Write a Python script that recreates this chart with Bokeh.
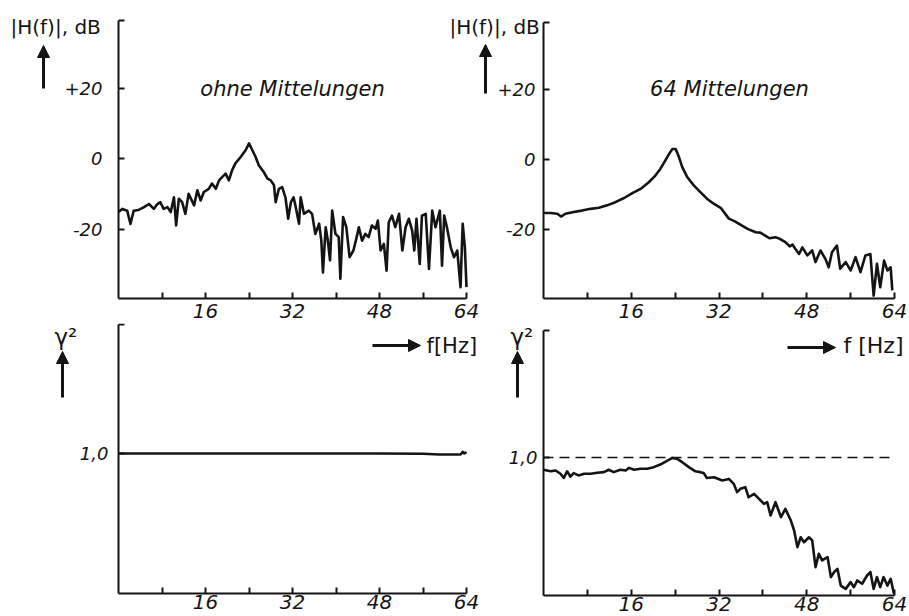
from bokeh.plotting import figure
from bokeh.models import Range1d, FixedTicker, Label, Arrow, NormalHead
from bokeh.layouts import row, column
from bokeh.embed import file_html
from bokeh.resources import INLINE

# ---------------- data ----------------
# top left: |H(f)| in dB, no averaging
f_tl = [0.0, 0.7, 1.6, 2.2, 2.8, 3.7, 4.7, 5.6, 6.5, 7.1, 7.7, 8.3, 9.0, 9.6, 10.2,
        10.6, 11.1, 11.7, 12.3, 12.9, 13.9, 14.5, 15.1, 15.7, 16.6, 17.2, 17.9, 18.5,
        19.1, 19.7, 20.3, 20.9, 21.5, 22.5, 23.4, 24.0, 24.6, 25.2, 25.8, 26.7, 27.4,
        28.0, 28.6, 28.9, 29.5, 30.1, 30.7, 31.2, 31.7, 32.2, 32.6, 33.2, 33.5, 34.1,
        35.0, 35.6, 36.2, 36.9, 37.3, 37.6, 38.1, 38.5, 38.9, 39.3, 39.9, 40.5, 40.8,
        41.3, 41.9, 42.5, 43.2, 43.8, 44.2, 44.8, 45.4, 46.0, 46.6, 47.3, 47.7, 48.2,
        48.8, 49.3, 49.7, 50.3, 50.9, 51.6, 52.2, 52.8, 53.4, 54.0, 54.4, 54.8, 55.4,
        55.8, 56.5, 57.1, 57.7, 58.3, 59.1, 59.5, 59.9, 60.4, 61.1, 61.7, 62.3, 62.9,
        63.3, 63.7, 64.0]
h_tl = [-15.2, -14.3, -14.8, -18.6, -14.8, -14.6, -13.8, -12.9, -14.3, -13.0, -12.4,
        -14.3, -13.8, -15.2, -11.0, -19.0, -11.4, -12.4, -15.7, -10.0, -13.3, -9.0,
        -11.9, -9.5, -8.6, -7.1, -8.6, -6.2, -5.2, -4.3, -6.2, -3.3, -1.4, 0.5, 2.4,
        4.3, 2.4, 0.5, -1.9, -3.8, -5.7, -6.2, -7.6, -12.4, -8.6, -8.1, -11.0, -17.1,
        -12.4, -11.0, -13.8, -18.5, -11.0, -15.7, -14.8, -15.7, -21.4, -18.5, -23.3,
        -32.3, -19.5, -23.3, -28.9, -14.8, -21.4, -22.3, -34.1, -16.6, -19.5, -28.0,
        -26.1, -22.3, -19.5, -23.3, -21.4, -22.3, -19.0, -19.9, -17.6, -26.1, -24.2,
        -31.8, -18.1, -16.2, -19.5, -15.7, -26.1, -19.5, -17.1, -20.4, -26.1, -17.1,
        -29.9, -16.2, -15.7, -31.3, -14.8, -19.5, -14.8, -30.4, -16.2, -19.5, -25.2,
        -28.0, -26.1, -36.5, -18.5, -25.2, -36.5]

# top right: |H(f)| in dB, 64 averages
f_tr = [0.0, 1.3, 2.5, 3.2, 4.0, 5.5, 7.0, 8.6, 10.1, 11.6, 13.1, 14.7, 16.2, 17.7,
        19.2, 20.4, 21.3, 22.2, 22.9, 23.5, 24.1, 24.7, 25.3, 26.2, 27.4, 28.6, 29.8,
        31.1, 32.3, 33.8, 34.8, 36.2, 37.3, 38.7, 39.5, 40.5, 41.2, 42.3, 43.0, 44.1,
        44.9, 45.4, 45.9, 46.6, 47.2, 48.1, 49.0, 49.6, 50.5, 51.4, 52.0, 52.6, 53.5,
        54.1, 55.1, 56.0, 56.9, 57.8, 58.7, 59.6, 60.2, 60.8, 61.4, 62.1, 62.7, 63.3,
        63.6]
h_tr = [-15.3, -15.3, -15.5, -16.3, -15.5, -15.0, -14.6, -14.1, -13.8, -13.1, -12.2,
        -11.0, -9.6, -8.4, -6.5, -4.6, -2.7, -0.3, 1.6, 3.0, 3.0, 0.7, -2.2, -5.0, -7.4,
        -9.3, -11.2, -12.7, -13.8, -16.9, -17.6, -18.9, -19.9, -20.8, -20.9, -21.8,
        -22.5, -22.2, -22.6, -23.6, -24.8, -24.3, -25.5, -27.0, -25.1, -27.4, -26.0,
        -29.3, -26.0, -28.4, -30.8, -26.5, -24.6, -31.2, -29.3, -31.7, -27.9, -32.2,
        -27.4, -27.0, -38.9, -29.8, -36.5, -28.9, -31.7, -30.8, -37.4]

# bottom left: coherence, no averaging
f_bl = [0.0, 16.0, 32.0, 48.0, 56.0, 59.0, 61.0, 62.9, 63.3, 63.6, 64.0]
g_bl = [1.0, 1.0, 1.0, 1.0, 0.998, 0.993, 0.993, 0.993, 1.012, 1.0, 1.01]

# bottom right: coherence, 64 averages
f_br = [0.0, 1.3, 2.2, 3.1, 3.7, 4.3, 4.9, 5.5, 6.4, 7.4, 8.6, 9.8, 11.0, 11.9, 12.8,
        14.0, 15.0, 15.6, 16.5, 17.7, 18.9, 20.1, 21.3, 22.6, 23.5, 24.4, 25.3, 26.5,
        27.7, 28.6, 29.2, 29.8, 31.1, 32.6, 33.8, 34.7, 35.3, 35.9, 36.8, 37.4, 38.4,
        39.3, 40.2, 40.8, 41.4, 42.3, 43.3, 44.1, 45.1, 45.7, 46.3, 46.9, 47.5, 48.4,
        49.0, 49.6, 50.2, 50.8, 51.8, 52.4, 53.0, 53.6, 54.2, 55.1, 56.0, 56.6, 57.2,
        58.1, 59.0, 59.6, 60.2, 60.8, 61.4, 62.0, 62.7, 63.3, 63.9]
g_br = [0.911, 0.900, 0.906, 0.882, 0.852, 0.900, 0.862, 0.887, 0.870, 0.882, 0.882,
        0.890, 0.894, 0.911, 0.894, 0.911, 0.906, 0.925, 0.911, 0.918, 0.918, 0.930,
        0.949, 0.978, 0.997, 0.990, 0.966, 0.930, 0.900, 0.894, 0.887, 0.852, 0.857,
        0.833, 0.845, 0.809, 0.749, 0.773, 0.785, 0.712, 0.737, 0.700, 0.664, 0.676,
        0.580, 0.676, 0.568, 0.628, 0.543, 0.471, 0.350, 0.422, 0.386, 0.422, 0.399,
        0.205, 0.302, 0.254, 0.278, 0.133, 0.170, 0.193, 0.072, 0.048, 0.097, 0.060,
        0.109, 0.085, 0.145, 0.170, 0.048, 0.133, 0.060, 0.133, 0.072, 0.121, 0.012]

f_axis = (0, 64)
x_ticks = [8, 16, 24, 32, 40, 48, 56, 64]
x_tick_labels = ["", "16", "", "32", "", "48", "", "64"]
db_axis = (-39.7, 39.2)
db_ticks = [-20, 0, 20]
db_tick_labels = ["-20", "0", "+20"]
coh_axis = (0.0, 1.92)
coh_ticks = [1.0]
coh_tick_labels = ["1,0"]
coh_ref = 1.0

# ---------------- styling / layout ----------------
INK = "#141414"
FONT = "DejaVu Sans"


class Panel:
    """One figure whose frame is its whole canvas; the axes are drawn at fixed
    data locations, so that captions can sit anywhere around them."""

    def __init__(self, canvas, x_px, y_px, y_vals, y_axis, yticks, ylabels,
                 ystand, xstand, show_ylabels=True):
        cx, cy, cw, ch = canvas                 # page pixels of the canvas
        self.x0px, x64px = x_px                 # page x of f = 0 and f = 64
        self.sx = (x64px - self.x0px) / (f_axis[1] - f_axis[0])
        ya_px, yb_px = y_px                     # page y of two known values
        self.va, vb = y_vals
        self.ya_px = ya_px
        self.sy = (ya_px - yb_px) / (vb - self.va)
        xr = ((cx - self.x0px) / self.sx, (cx + cw - self.x0px) / self.sx)
        yr = (self.va - (cy + ch - ya_px) / self.sy, self.va + (ya_px - cy) / self.sy)
        p = figure(width=cw, height=ch, output_backend="svg", toolbar_location=None,
                   x_range=Range1d(*xr), y_range=Range1d(*yr), min_border=0)
        p.background_fill_color = None
        p.border_fill_color = None
        p.outline_line_color = None
        p.xgrid.visible = False
        p.ygrid.visible = False
        xa = p.xaxis[0]
        ya = p.yaxis[0]
        xa.fixed_location = y_axis[0]
        xa.bounds = f_axis
        ya.fixed_location = f_axis[0]
        ya.bounds = y_axis
        xa.ticker = FixedTicker(ticks=x_ticks, minor_ticks=[])
        xa.major_label_overrides = dict(zip(x_ticks, x_tick_labels))
        ytop = y_axis[1] - 0.001 * (y_axis[1] - y_axis[0])
        yt = list(yticks) + [ytop]
        ya.ticker = FixedTicker(ticks=yt, minor_ticks=[])
        labs = list(ylabels) if show_ylabels else [""] * len(yticks)
        ya.major_label_overrides = dict(zip(yt, labs + [""]))
        for ax in (xa, ya):
            ax.axis_line_width = 2
            ax.axis_line_color = INK
            ax.major_tick_in = 6
            ax.major_tick_out = 0
            ax.major_tick_line_width = 2
            ax.major_tick_line_color = INK
            ax.minor_tick_line_color = None
            ax.major_label_text_font = FONT
            ax.major_label_text_font_style = "italic"
            ax.major_label_text_color = INK
        xa.major_label_text_font_size = "20px"
        ya.major_label_text_font_size = "18px"
        xa.major_label_standoff = xstand
        ya.major_label_standoff = ystand
        self.p = p

    def to_data(self, x, y):
        return ((x - self.x0px) / self.sx, self.va + (self.ya_px - y) / self.sy)

    def page_y(self, v):
        return self.ya_px - (v - self.va) * self.sy

    def text(self, x, y, text, size, align="left", style="normal"):
        dx, dy = self.to_data(x, y)
        self.p.add_layout(Label(x=dx, y=dy, text=text, text_font=FONT,
                                text_font_size=size, text_font_style=style,
                                text_color=INK, text_align=align, text_baseline="middle"))

    def arrow(self, x0, y0, x1, y1):
        a = self.to_data(x0, y0)
        b = self.to_data(x1, y1)
        self.p.add_layout(Arrow(x_start=a[0], y_start=a[1], x_end=b[0], y_end=b[1],
                                line_width=3, line_color=INK,
                                end=NormalHead(size=12, fill_color=INK, line_color=INK,
                                               line_width=1)))


TL = Panel((0, 0, 540, 323), (118, 466), (158, 228.5), (0, -20), db_axis,
           db_ticks, db_tick_labels, 16, 6)
TR = Panel((540, 0, 369, 323), (543, 894), (159, 229), (0, -20), db_axis,
           db_ticks, db_tick_labels, 0, 6, show_ylabels=False)
BL = Panel((0, 323, 498, 293), (118, 466), (593, 453), (0, 1), coh_axis,
           coh_ticks, coh_tick_labels, 10, 1)
BR = Panel((498, 323, 411, 293), (543, 894), (595, 457), (0, 1), coh_axis,
           coh_ticks, coh_tick_labels, 6, 1)

TL.p.line(f_tl, h_tl, line_width=2.6, line_color=INK, line_join="round")
TR.p.line(f_tr, h_tr, line_width=2.6, line_color=INK, line_join="round")
BL.p.line(f_bl, g_bl, line_width=2.6, line_color=INK, line_join="round")
BR.p.line(f_br, g_br, line_width=2.6, line_color=INK, line_join="round")
BR.p.line(list(f_axis), [coh_ref, coh_ref], line_dash="10 6", line_width=1.5,
          line_color=INK)

# axis captions, arrows and panel titles
TL.text(10, 26, "|H(f)|, dB", "20px")
TL.arrow(43, 88, 43, 45)
TL.text(292, 88, "ohne Mittelungen", "21px", align="center", style="italic")

# the right-hand |H(f)| caption and tick labels lie left of the right canvas
TL.text(449, 26, "|H(f)|, dB", "20px")
TL.arrow(485, 93, 485, 44)
for v, lab in zip(db_ticks, db_tick_labels):
    TL.text(535, TR.page_y(v), lab, "18px", align="right", style="italic")
TR.text(729, 88, "64 Mittelungen", "21px", align="center", style="italic")

BL.text(54, 336, "γ²", "23px")
BL.arrow(62, 397, 62, 351)
BL.arrow(372, 345, 420, 345)
BL.text(426, 345, "f[Hz]", "21px")

BR.text(510, 336, "γ²", "23px")
BR.arrow(517, 397, 517, 351)
BR.arrow(787, 347, 835, 347)
BR.text(843, 345, "f [Hz]", "22px")

layout = column(row(TL.p, TR.p), row(BL.p, BR.p))
open("out.html", "w").write(file_html(layout, INLINE))
